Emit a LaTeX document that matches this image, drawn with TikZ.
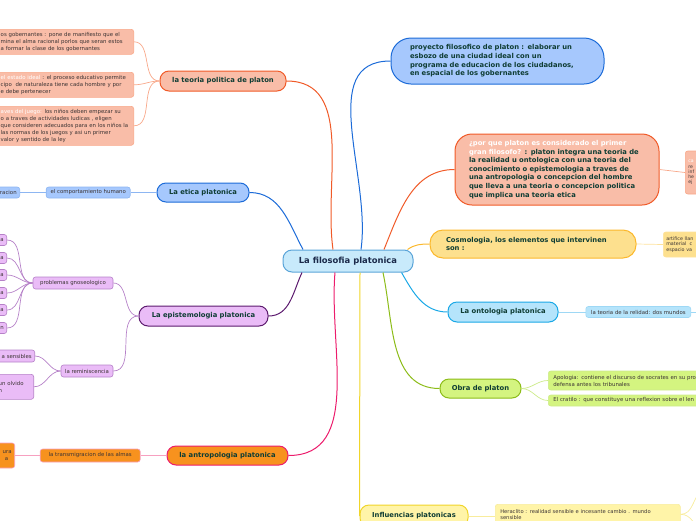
\documentclass[tikz,border=0pt]{standalone}
\usepackage{fontspec}
\setmainfont{DejaVu Sans}
\usepackage{tikz}
\usetikzlibrary{positioning}

\definecolor{rootfill}{HTML}{C8EAFB}
\definecolor{rootline}{HTML}{5AA4D8}
\definecolor{roottext}{HTML}{1B2A4A}
\definecolor{topictext}{HTML}{0F3D34}
\definecolor{subtext}{HTML}{3C3434}
\definecolor{bluefill}{HTML}{A6C8FD}
\definecolor{blueline}{HTML}{1C6BD8}
\definecolor{bluetwig}{HTML}{8DB6F2}
\definecolor{salmfill}{HTML}{F9BDA8}
\definecolor{salmline}{HTML}{F05A28}
\definecolor{salmtwig}{HTML}{F8A88A}
\definecolor{goldfill}{HTML}{FDE08E}
\definecolor{goldline}{HTML}{FBB82C}
\definecolor{goldtwig}{HTML}{FDE29C}
\definecolor{skyfill}{HTML}{B5E4FB}
\definecolor{skyline}{HTML}{1AA8E6}
\definecolor{skytwig}{HTML}{9ED8F5}
\definecolor{limefill}{HTML}{D4F480}
\definecolor{limeline}{HTML}{8CBC18}
\definecolor{limetwig}{HTML}{CDEB8A}
\definecolor{yelfill}{HTML}{FFF4A8}
\definecolor{yelline}{HTML}{F0D52A}
\definecolor{yeltwig}{HTML}{F8EC9C}
\definecolor{lilafill}{HTML}{EABCF7}
\definecolor{lilaline}{HTML}{5C1A6E}
\definecolor{lilatwig}{HTML}{B681C8}
\definecolor{orngfill}{HTML}{F7921E}
\definecolor{orngline}{HTML}{EC1C6C}
\definecolor{orngtwig}{HTML}{F7A0C0}

\begin{document}
\begin{tikzpicture}[
  x=1pt, y=-1pt,
  root/.style  = {draw=rootline, fill=rootfill, line width=1pt, rounded corners=9pt,
                  minimum width=130pt, minimum height=22pt, inner sep=0pt,
                  font=\bfseries\fontsize{8.4}{9}\selectfont, text=roottext},
  topic/.style = {line width=1pt, rounded corners=9pt, minimum height=20pt, inner sep=0pt,
                  font=\bfseries\fontsize{6.8}{8.6}\selectfont, text=topictext},
  sub/.style   = {line width=0.6pt, rounded corners=2.5pt, inner xsep=3pt, inner ysep=0pt,
                  align=left, font=\fontsize{5.4}{7}\selectfont, text=subtext},
  link/.style  = {line width=1pt},
  twig/.style  = {line width=0.7pt},
]
  \useasboundingbox (0,0) rectangle (696,520);
  \clip (0,0) rectangle (696,520);

  % Centre
  \node[root] (root) at (348,261) {La filosofia platonica};

  % Right hand topics
  \node[topic, draw=blueline, fill=bluefill, rounded corners=20pt, minimum width=213pt,
        minimum height=46pt, text width=175pt, align=left, inner xsep=19pt]
        (proyecto) at (497.5,61)
        {proyecto filosofico de platon : elaborar un\\esbozo de una ciudad ideal con un\\
         programa de educacion de los ciudadanos,\\en espacial de los gobernantes};
  \node[topic, draw=salmline, fill=salmfill, rounded corners=17pt, minimum width=204pt,
        minimum height=71pt, text width=176pt, align=left, inner xsep=14pt]
        (porque) at (557,169.5)
        {\textcolor{white}{¿por que platon es considerado el primer}\\
         \textcolor{white}{gran filosofo?} : platon integra una teoria de\\
         la realidad u ontologica con una teoria del\\conocimiento o epistemologia a traves de\\
         una antropologia o concepcion del hombre\\que lleva a una teoria o concepcion politica\\
         que implica una teoria etica};
  \node[topic, draw=goldline, fill=goldfill, rounded corners=13pt, minimum width=206pt,
        minimum height=28pt, text width=174pt, align=left, inner xsep=16pt]
        (cosmo) at (533,244) {Cosmologia, los elementos que intervinen\\son :};
  \node[topic, draw=skyline, fill=skyfill, minimum width=110pt]
        (onto) at (503,312) {La ontologia platonica};
  \node[topic, draw=limeline, fill=limefill, minimum width=81pt, minimum height=19pt]
        (obra) at (480.5,388.5) {Obra de platon};
  \node[topic, draw=yelline, fill=yelfill, minimum width=108pt, minimum height=22pt]
        (influ) at (414,516) {Influencias platonicas};

  % Left hand topics
  \node[topic, draw=salmline, fill=salmfill, minimum width=126pt]
        (politica) at (223,81) {la teoria politica de platon};
  \node[topic, draw=blueline, fill=bluefill, minimum width=92pt, minimum height=19pt]
        (etica) at (203,192.5) {La etica platonica};
  \node[topic, draw=lilaline, fill=lilafill, minimum width=129pt]
        (episte) at (203.5,316) {La epistemologia platonica};
  \node[topic, draw=orngline, fill=orngfill, minimum width=121pt, minimum height=19pt]
        (antropo) at (227.5,455.5) {la antropologia platonica};

  % Topic links
  \draw[link, blueline] ([xshift=13pt]root.north) to[out=82, in=180] (proyecto.west);
  \draw[link, salmline] ([xshift=36pt]root.north) to[out=68, in=180] (porque.west);
  \draw[link, goldline] ([xshift=-6pt]root.north east) to[out=35, in=180] (cosmo.west);
  \draw[link, skyline]  ([xshift=-12pt]root.south east) to[out=-60, in=180] (onto.west);
  \draw[link, limeline] ([xshift=35pt]root.south) to[out=-78, in=180] (obra.west);
  \draw[link, yelline]  ([xshift=12pt]root.south) -- (influ.west);
  \draw[link, salmline] ([xshift=-15pt]root.north) to[out=98, in=0] (politica.east);
  \draw[link, blueline] ([xshift=-45pt]root.north) to[out=118, in=0] (etica.east);
  \draw[link, lilaline] ([xshift=-46pt]root.south) to[out=-115, in=0] (episte.east);
  \draw[link, orngline] ([xshift=-13pt]root.south) to[out=-95, in=0] (antropo.east);

  % Right hand details
  \node[sub, draw=salmtwig, fill=salmfill, anchor=west, minimum height=43pt, text width=30pt,
        font=\fontsize{4.6}{5.2}\selectfont] (cada) at (685,172.5)
        {\textcolor{white}{ca}\\re\\inf\\he\\ej};
  \node[sub, draw=goldtwig, fill=goldfill, anchor=west, minimum height=25pt, text width=40pt,
        font=\fontsize{4.8}{5.6}\selectfont] (artifice) at (663,244.5)
        {artifice llan\\material\ \ c\\espacio va};
  \node[sub, draw=skytwig, fill=skyfill, right=27pt of onto, minimum height=11pt, minimum width=105pt]
        (relidad) {la teoria de la relidad: dos mundos};
  \coordinate[right=14pt of relidad] (relidadout);
  \node[sub, draw=limetwig, fill=limefill, anchor=west, minimum height=19pt, text width=180pt,
        inner xsep=5pt] (apologia) at (548,380.5)
        {Apologia: contiene el discurso de socrates en su pro\\defensa antes los tribunales};
  \node[sub, draw=limetwig, fill=limefill, anchor=west, minimum height=11pt, text width=180pt,
        inner xsep=5pt] (cratilo) at (548,400.5)
        {El cratilo : que constituye una reflexion sobre el len};
  \node[sub, draw=yeltwig, fill=yelfill, anchor=north west, minimum height=20pt, text width=175pt,
        inner xsep=5pt, inner ysep=2pt, font=\fontsize{5.2}{5.8}\selectfont] (heraclito) at (495,504)
        {Heraclito : realidad sensible e incesante cambio . mundo\\sensible};
  \coordinate (heraup) at (702,490);
  \coordinate (heradn) at (702,532);

  \draw[twig, salmtwig] (porque.east) -- (cada.west);
  \draw[twig, goldtwig] (cosmo.east) -- (artifice.west);
  \draw[twig, skytwig]  (onto.east) -- (relidad.west);
  \draw[twig, skytwig]  (relidad.east) -- (relidadout);
  \draw[twig, limetwig] (obra.east) to[out=0, in=180] (apologia.west);
  \draw[twig, limetwig] (obra.east) to[out=0, in=180] (cratilo.west);
  \draw[twig, yeltwig]  (influ.east) -- (heraclito.west |- influ.east);
  \draw[twig, yeltwig]  (heraclito.east) to[out=0, in=220] (heraup);
  \draw[twig, yeltwig]  (heraclito.east) to[out=0, in=140] (heradn);

  % Left hand details: politica
  \node[sub, draw=salmtwig, fill=salmfill, anchor=north east, minimum height=25pt, text width=130pt]
        (gobernantes) at (134,29)
        {os gobernantes : pone de manifiesto que el\\mina el alma racional porlos que seran estos\\a formar la clase de los gobernantes};
  \node[sub, draw=salmtwig, fill=salmfill, anchor=north east, minimum height=25pt, text width=130pt]
        (estado) at (134,72)
        {\textcolor{white}{el estado ideal} : el proceso educativo permite\\cipo\ \ de naturaleza tiene cada hombre y por\\e debe pertenecer};
  \node[sub, draw=salmtwig, fill=salmfill, anchor=north east, minimum height=39pt, text width=130pt]
        (juego) at (134,106)
        {\textcolor{white}{aves del juego:} los niños deben empezar su\\o a traves de actividades ludicas , eligen\\que consideren adecuados para en los niños la\\las normas de los juegos y asi un primer\\valor y sentido de la ley};
  \foreach \leaf in {gobernantes, estado, juego}
    \draw[twig, salmtwig] (politica.west) to[out=180, in=0] (\leaf.east);

  % etica
  \node[sub, draw=bluetwig, fill=bluefill, left=26pt of etica, minimum height=11pt, minimum width=84pt]
        (comporta) {el comportamiento humano};
  \node[sub, draw=bluetwig, fill=bluefill, anchor=east, minimum height=11pt, text width=30pt,
        align=right] (racion) at (20,192.5) {racion};
  \draw[twig, bluetwig] (etica.west) -- (comporta.east);
  \draw[twig, bluetwig] (comporta.west) -- (racion.east);

  % epistemologia
  \node[sub, draw=lilatwig, fill=lilafill, minimum height=12pt, minimum width=80pt]
        (gnoseo) at (73,283) {problemas gnoseologico};
  \node[sub, draw=lilatwig, fill=lilafill, minimum height=12pt, minimum width=52pt]
        (reminis) at (87,371) {la reminiscencia};
  \foreach \ypos/\txt [count=\k] in {240/a, 258/a, 275/a, 293/a, 310/a, 328/n} {
    \node[sub, draw=lilatwig, fill=lilafill, anchor=east, minimum height=11pt, text width=20pt,
          align=right] (gleaf\k) at (7,\ypos) {\txt};
    \draw[twig, lilatwig] (gnoseo.west) to[out=180, in=0] (gleaf\k.east);
  }
  \node[sub, draw=lilatwig, fill=lilafill, anchor=east, minimum height=12pt, text width=40pt,
        align=right] (sensibles) at (35,356) {a sensibles};
  \node[sub, draw=lilatwig, fill=lilafill, anchor=north east, minimum height=25pt, text width=40pt]
        (olvido) at (34,374) {\hspace*{8pt}un olvido\\\hspace*{8pt}n};
  \draw[twig, lilatwig] (episte.west) to[out=180, in=0] (gnoseo.east);
  \draw[twig, lilatwig] (episte.west) to[out=180, in=0] (reminis.east);
  \draw[twig, lilatwig] (reminis.west) to[out=180, in=0] (sensibles.east);
  \draw[twig, lilatwig] (reminis.west) to[out=180, in=0] (olvido.east);

  % antropologia
  \node[sub, draw=orngtwig, fill=orngfill, left=26pt of antropo, minimum height=13pt, minimum width=100pt]
        (transmig) {la transmigracion de las almas};
  \node[sub, draw=orngtwig, fill=orngfill, anchor=east, minimum height=25pt, text width=30pt,
        align=right] (ura) at (15,455.5) {ura\\a\hspace*{3.5pt}};
  \draw[twig, orngtwig] (antropo.west) -- (transmig.east);
  \draw[twig, orngtwig] (transmig.west) -- (ura.east);
\end{tikzpicture}
\end{document}
